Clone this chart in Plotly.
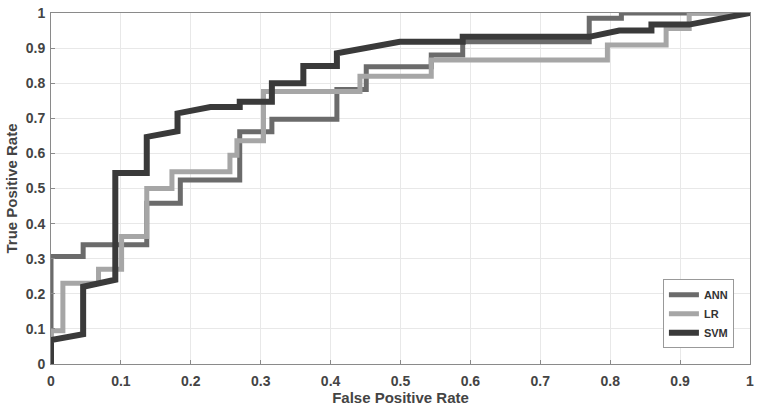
import plotly.graph_objects as go

# ROC curve data
ann_fpr = [0, 0, 0.046, 0.046, 0.137, 0.137, 0.185, 0.185, 0.27, 0.27, 0.316, 0.316,
           0.409, 0.409, 0.451, 0.451, 0.544, 0.544, 0.589, 0.589, 0.77, 0.77, 0.816, 0.816, 1]
ann_tpr = [0, 0.306, 0.306, 0.34, 0.34, 0.458, 0.458, 0.524, 0.524, 0.662, 0.662, 0.697,
           0.697, 0.782, 0.782, 0.847, 0.847, 0.88, 0.88, 0.918, 0.918, 0.985, 0.985, 1, 1]

lr_fpr = [0, 0, 0.017, 0.017, 0.068, 0.068, 0.101, 0.101, 0.137, 0.137, 0.173, 0.173,
          0.256, 0.256, 0.266, 0.266, 0.304, 0.304, 0.442, 0.442, 0.544, 0.544, 0.796,
          0.796, 0.88, 0.88, 0.913, 0.913, 1]
lr_tpr = [0, 0.095, 0.095, 0.23, 0.23, 0.27, 0.27, 0.363, 0.363, 0.5, 0.5, 0.548,
          0.548, 0.595, 0.595, 0.636, 0.636, 0.776, 0.776, 0.82, 0.82, 0.866, 0.866,
          0.909, 0.909, 0.956, 0.956, 1, 1]

svm_fpr = [0, 0, 0.046, 0.046, 0.092, 0.092, 0.137, 0.137, 0.181, 0.181, 0.228, 0.27,
           0.27, 0.316, 0.316, 0.361, 0.361, 0.409, 0.409, 0.499, 0.589, 0.589, 0.77,
           0.813, 0.859, 0.859, 0.913, 1]
svm_tpr = [0, 0.068, 0.085, 0.22, 0.24, 0.544, 0.544, 0.647, 0.663, 0.714, 0.732, 0.732,
           0.747, 0.747, 0.80, 0.80, 0.849, 0.849, 0.885, 0.918, 0.918, 0.932, 0.932,
           0.95, 0.95, 0.967, 0.967, 1]

x_ticks = [0, 0.1, 0.2, 0.3, 0.4, 0.5, 0.6, 0.7, 0.8, 0.9, 1]
x_labels = ["0", "0.1", "0.2", "0.3", "0.4", "0.5", "0.6", "0.7", "0.8", "0.9", "1"]
y_ticks = [0, 0.1, 0.2, 0.3, 0.4, 0.5, 0.6, 0.7, 0.8, 0.9, 1]
y_labels = ["0", "0.1", "0.2", "0.3", "0.4", "0.5", "0.6", "0.7", "0.8", "0.9", "1"]

fig = go.Figure()
fig.add_trace(go.Scatter(x=ann_fpr, y=ann_tpr, mode="lines", name="ANN",
                         line=dict(color="#6b6b6b", width=5)))
fig.add_trace(go.Scatter(x=lr_fpr, y=lr_tpr, mode="lines", name="LR",
                         line=dict(color="#a6a6a6", width=5)))
fig.add_trace(go.Scatter(x=svm_fpr, y=svm_tpr, mode="lines", name="SVM",
                         line=dict(color="#3a3a3a", width=6)))

font_fam = "Liberation Sans, Arial, sans-serif"
fig.update_layout(
    width=761, height=414,
    margin=dict(l=51, r=11, t=13, b=50),
    paper_bgcolor="white", plot_bgcolor="white",
    font=dict(family=font_fam, color="#3a3a3a"),
    showlegend=True,
    legend=dict(x=0.977, y=0.045, xanchor="right", yanchor="bottom",
                bgcolor="white", bordercolor="#999999", borderwidth=1,
                font=dict(size=11, family=font_fam, color="#333333", weight="bold"),
                tracegroupgap=0, itemwidth=30),
)
fig.update_xaxes(range=[0, 1], tickvals=x_ticks, ticktext=x_labels, automargin=False,
                 showgrid=True, gridcolor="#e8e8e8", zeroline=False,
                 showline=True, linecolor="#8a8a8a", linewidth=1, mirror=True,
                 ticks="inside", ticklen=4, tickcolor="#8a8a8a", ticklabelstandoff=4,
                 tickfont=dict(size=14, weight="bold", color="#444444"),
                 title=dict(text="False Positive Rate", standoff=2,
                            font=dict(size=15, weight="bold", color="#444444")))
fig.update_yaxes(range=[0, 1], tickvals=y_ticks, ticktext=y_labels, automargin=False,
                 showgrid=True, gridcolor="#e8e8e8", zeroline=False,
                 showline=True, linecolor="#8a8a8a", linewidth=1, mirror=True,
                 ticks="inside", ticklen=4, tickcolor="#8a8a8a", ticklabelstandoff=2,
                 tickfont=dict(size=14, weight="bold", color="#444444"),
                 title=dict(text="True Positive Rate", standoff=4,
                            font=dict(size=15, weight="bold", color="#444444")))

fig.write_html("out.html", config={"displayModeBar": False},
               post_script="document.body.style.margin='0';document.body.style.overflow='hidden';")
